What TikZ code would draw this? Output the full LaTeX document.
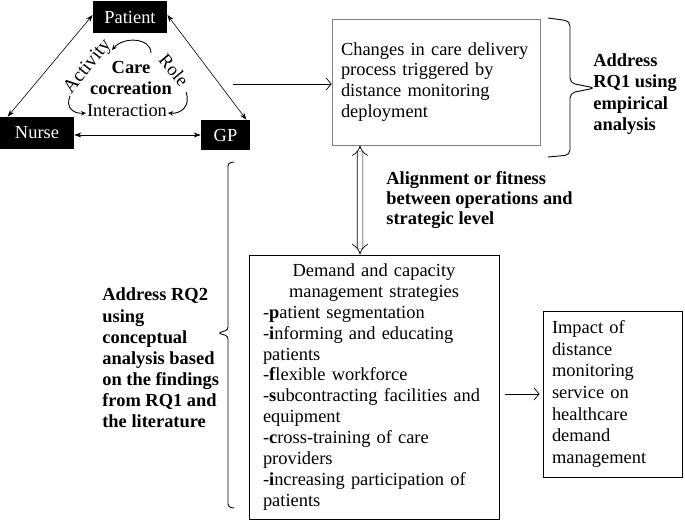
\documentclass[tikz,border=0pt]{standalone}
\usepackage{fontspec}
\setmainfont{Liberation Serif}
\usetikzlibrary{arrows.meta,calc}

\begin{document}
\begin{tikzpicture}[x=1bp,y=-1bp, line width=0.7bp,
  txt/.style={font=\fontsize{18.5}{21}\selectfont},
  actor/.style={txt, fill=black, text=white, inner sep=0pt},
  box/.style={txt, draw=black, align=left, inner ysep=0pt},
  lbl/.style={txt, font=\fontsize{18.5}{21.5}\selectfont\bfseries, align=left, inner sep=0pt},
  link/.style={{Stealth[length=7bp,width=5bp]}-{Stealth[length=7bp,width=5bp]}, line width=0.6bp},
  cyc/.style={-{Stealth[length=5bp,width=4.5bp]}, line width=0.9bp},
  flow/.style={-{Straight Barb[length=5bp,width=12bp]}, line width=0.7bp}]

\useasboundingbox (0,0) rectangle (685,521);

%ACTORS
\node[actor, minimum width=74bp, minimum height=32bp] (pat) at (130,17) {Patient};
\node[actor, minimum width=74bp, minimum height=32bp] (nur) at (37,133) {Nurse};
\node[actor, minimum width=49bp, minimum height=30bp] (gp) at (225.5,135) {GP};

\draw[link] ([yshift=2bp]pat.west) -- ([xshift=8bp]nur.north west);
\draw[link] ([yshift=2bp]pat.east) -- ([xshift=-4bp]gp.north east);
\draw[link] (gp.west -| nur.east) -- (gp.west);

%CARE COCREATION
\node[txt, font=\fontsize{18.5}{21}\selectfont\bfseries, align=center, inner sep=0pt] (care) at (131,78) {Care\\cocreation};
\node[txt, font=\fontsize{19.5}{21}\selectfont, rotate=51, inner sep=0pt] (act) at (88,67) {Activity};
\node[txt, rotate=-50, inner sep=0pt] (rol) at (174,70) {Role};
\node[txt, inner sep=0pt] (int) at (127,110) {Interaction};

\draw[cyc] (151,53) .. controls (151,38) and (124,36) .. (112,50);
\draw[cyc] (70,96) .. controls (65,108) and (74,114) .. (86,113);
\draw[cyc] (186,92) .. controls (191,106) and (181,114) .. (168,113);

%OPERATIONS LEVEL
\coordinate (trio) at (233,84);
\node[box, draw=gray, text width=190bp, inner xsep=9bp, minimum height=126bp] (chg) at (436,82)
  {Changes in care delivery\\process triggered by\\distance monitoring\\deployment};
\draw[flow] (trio) -- (trio -| chg.west);

%right brace
\draw[line width=0.9bp, rounded corners=5bp] (548,18) -- (570,21) -- (570,83) -- (595,88) -- (570,93) -- (570,155) -- (548,157);
\node[lbl, anchor=west] (rqa) at (593,94) {Address\\RQ1 using\\empirical\\analysis};

%ALIGNMENT
\node[box, line width=0.9bp, text width=222bp, inner xsep=14bp, minimum height=264bp] (dem) at (374,387)
  {\makebox[222bp]{Demand and capacity}\\
   \makebox[222bp]{management strategies}\\
   -\textbf{p}atient segmentation\\
   -\textbf{i}nforming and educating\\
   patients\\
   -\textbf{f}lexible workforce\\
   -\textbf{s}ubcontracting facilities and\\
   equipment\\
   -\textbf{c}ross-training of care\\
   providers\\
   -\textbf{i}ncreasing participation of\\
   patients};
\draw[double, double distance=5bp, line width=0.7bp, {Implies[length=6bp]}-{Implies[length=6bp]}]
  ([xshift=-76bp]chg.south) -- ([xshift=-14bp]dem.north);
\node[lbl, font=\fontsize{18.5}{20}\selectfont\bfseries, anchor=west] (aln) at (386,200) {Alignment or fitness\\between operations and\\strategic level};

%left brace
\draw[line width=0.9bp, rounded corners=3bp] (234,162) -- (228,163) -- (228,330) -- (218,333) -- (228,336) -- (228,507) -- (234,508);
\node[lbl, font=\fontsize{18.5}{21.2}\selectfont\bfseries, anchor=west] (rqb) at (102,358) {Address RQ2\\using\\conceptual\\analysis based\\on the findings\\from RQ1 and\\the literature};

%IMPACT
\node[box, line width=0.9bp, text width=121bp, inner xsep=9bp, minimum height=166bp, font=\fontsize{18.5}{21.7}\selectfont] (imp) at (612.5,394)
  {Impact of\\distance\\monitoring\\service on\\healthcare\\demand\\management};
\draw[flow] ($(dem.east |- imp.west)+(6,0)$) -- ([xshift=-3bp]imp.west);
\end{tikzpicture}
\end{document}
